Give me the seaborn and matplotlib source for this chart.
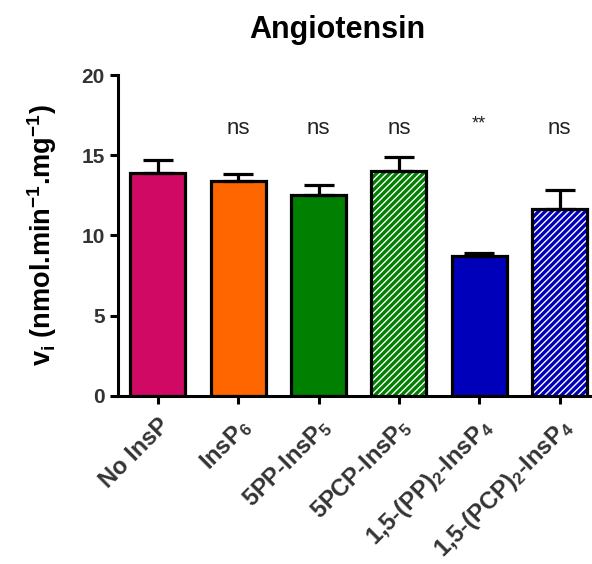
import numpy as np
import matplotlib
matplotlib.use("Agg")
import matplotlib.pyplot as plt
import seaborn as sns

labels = ["No InsP", "InsP$_6$", "5PP-InsP$_5$", "5PCP-InsP$_5$",
          "1,5-(PP)$_2$-InsP$_4$", "1,5-(PCP)$_2$-InsP$_4$"]
means = [13.9, 13.4, 12.5, 14.0, 8.75, 11.65]
sem = [0.78, 0.4, 0.62, 0.88, 0.18, 1.2]
colors = ["#D00A64", "#FF6600", "#007F00", "#007F00", "#0000BB", "#0000BB"]
hatched = [False, False, False, True, False, True]
signif = ["", "ns", "ns", "ns", "**", "ns"]

sns.set_style("ticks")
plt.rcParams["font.family"] = ["Liberation Sans", "DejaVu Sans"]
plt.rcParams["mathtext.fontset"] = "custom"
plt.rcParams["mathtext.rm"] = "Liberation Sans:bold"
plt.rcParams["mathtext.it"] = "Liberation Sans:bold"
plt.rcParams["mathtext.bf"] = "Liberation Sans:bold"
plt.rcParams["hatch.linewidth"] = 1.0

fig = plt.figure(figsize=(5.92, 5.64), dpi=100)
# right end of the x axis runs slightly past the image edge
ax = fig.add_axes([0.199, 0.298, 0.814, 0.569])

# filled bars (white edge so hatches come out white)
sns.barplot(x=labels, y=means, hue=labels, palette=colors, legend=False,
            width=0.685, edgecolor="white", linewidth=0, saturation=1, ax=ax)
for p, h in zip(ax.patches, hatched):
    if h:
        p.set_hatch("/////")
        p.set_edgecolor("white")
# black outlines on top
sns.barplot(x=labels, y=means, width=0.685, fill=False, edgecolor="black",
            linewidth=2.3, ax=ax, errorbar=None)

xs = np.arange(len(labels))
ax.errorbar(xs, means, yerr=[np.zeros(len(sem)), sem], fmt="none",
            ecolor="black", elinewidth=2.3, capsize=10.5, capthick=2.3, zorder=1)

for x, s in zip(xs, signif):
    if s == "**":
        ax.text(x, 16.4, s, ha="center", va="bottom", fontsize=13, color="#222222")
    elif s:
        ax.text(x, 16.0, s, ha="center", va="bottom", fontsize=16, color="#222222")

ax.set_ylim(0, 20)
ax.set_xlim(-0.5, 5.5)
ax.set_yticks([0, 5, 10, 15, 20])
ax.set_ylabel("v$_i$ (nmol.min$^{-1}$.mg$^{-1}$)", fontsize=19.5, fontweight="bold",
              labelpad=16, color="black")
ax.set_title("Angiotensin", fontsize=22, fontweight="bold", pad=27, x=0.456,
             color="black")

for sp in ["top", "right"]:
    ax.spines[sp].set_visible(False)
for sp in ["left", "bottom"]:
    ax.spines[sp].set_linewidth(2.2)
    ax.spines[sp].set_color("black")
ax.tick_params(width=2.2, length=6, labelsize=15, labelcolor="#333333", color="black")
ax.tick_params(axis="x", pad=7)
for t in ax.get_yticklabels():
    t.set_fontweight("bold")
ax.set_xticks(xs)
ax.set_xticklabels(labels, rotation=45, ha="right", rotation_mode="anchor",
                   fontweight="bold", fontsize=17)

fig.savefig("out.png", dpi=100)
